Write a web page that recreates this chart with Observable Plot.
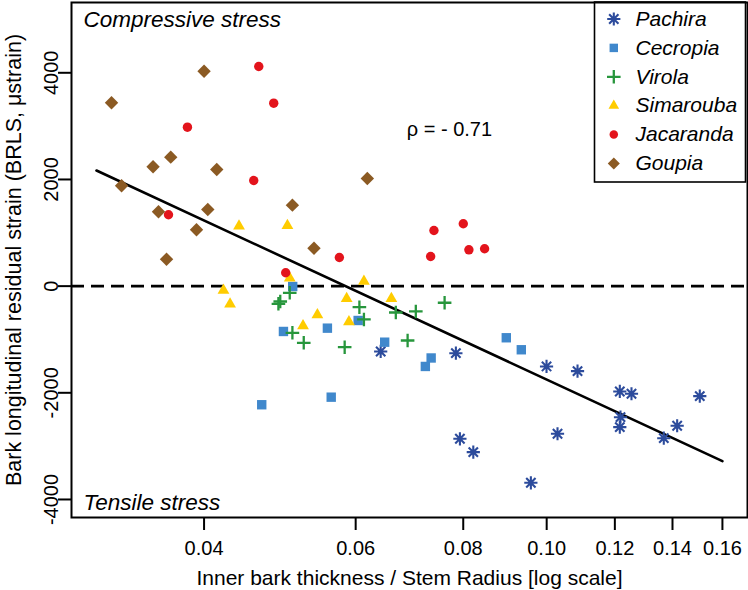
<!DOCTYPE html>
<html>
<head>
<meta charset="utf-8">
<script src="https://cdn.jsdelivr.net/npm/d3@7"></script>
<script src="https://cdn.jsdelivr.net/npm/@observablehq/plot@0.6"></script>
<style>
  html, body { margin: 0; padding: 0; background: #fff; }
  #chart svg { display: block; }
</style>
</head>
<body>
<div id="chart"></div>
<script>
// ---- Data ----
const species = ["Pachira", "Cecropia", "Virola", "Simarouba", "Jacaranda", "Goupia"];
const colors  = ["#2c4b9c", "#4088cc", "#27963c", "#ffcc00", "#e3141c", "#8b5a23"];

const pachiraX = [0.06415, 0.07844, 0.09996, 0.1086, 0.1216, 0.12546, 0.1506, 0.12182, 0.1216, 0.13678, 0.14176, 0.07929, 0.08218, 0.10294, 0.09586];
const pachiraY = [-1225, -1257, -1506, -1594, -1975, -2018, -2063, -2457, -2644, -2851, -2618, -2862, -3113, -2768, -3687];

const cecropiaX = [0.0507, 0.04946, 0.05563, 0.0604, 0.06484, 0.07342, 0.07229, 0.04667, 0.0562, 0.08976, 0.09344];
const cecropiaY = [-7, -850, -788, -644, -1051, -1347, -1506, -2224, -2082, -968, -1193];

const virolaX = [0.0488, 0.04904, 0.0503, 0.05066, 0.05222, 0.05826, 0.0606, 0.06134, 0.0668, 0.07047, 0.07611, 0.06894];
const virolaY = [-331, -288, -125, -875, -1062, -1145, -395, -625, -494, -475, -312, -1019];

const simaroubaX = [0.04392, 0.04999, 0.04213, 0.04288, 0.0503, 0.06134, 0.05857, 0.06601, 0.05416, 0.05212, 0.05893];
const simaroubaY = [1124, 1137, -80, -335, 150, 90, -235, -235, -540, -745, -670];

const jacarandaX = [0.0463, 0.04819, 0.03826, 0.04568, 0.03637, 0.05744, 0.04976, 0.07397, 0.08001, 0.07332, 0.08122, 0.0847];
const jacarandaY = [4118, 3430, 2980, 1981, 1338, 537, 250, 1043, 1169, 556, 681, 700];

const goupiaX = [0.03123, 0.0400, 0.0349, 0.03659, 0.04138, 0.03208, 0.03541, 0.0404, 0.0392, 0.03618, 0.05066, 0.05367, 0.0619];
const goupiaY = [3437, 4030, 2238, 2418, 2187, 1881, 1394, 1437, 1056, 505, 1518, 711, 2018];

// regression line endpoints
const fitX = [0.03, 0.16];
const fitY = [2168, -3282];

const xTicks = [0.04, 0.06, 0.08, 0.10, 0.12, 0.14, 0.16];
const yTicks = [-4000, -2000, 0, 2000, 4000];

const rhoLabel = [{x: 0.0771, y: 2926, text: "ρ = - 0.71"}];
const xTitle = "Inner bark thickness / Stem Radius [log scale]";
const yTitle = "Bark longitudinal residual strain (BRLS, μstrain)";

// ---- Symbols (R-like pch) ----
const sym = (fn) => ({draw(ctx, size) { fn(ctx, Math.sqrt(size / Math.PI)); }});
const asterisk8 = sym((c, r) => {
  for (let k = 0; k < 4; k++) {
    const a = k * Math.PI / 4, x = r * Math.cos(a), y = r * Math.sin(a);
    c.moveTo(x, y); c.lineTo(-x, -y);
  }
});
const plusSym = sym((c, r) => { c.moveTo(-r, 0); c.lineTo(r, 0); c.moveTo(0, -r); c.lineTo(0, r); });
const squareSym = sym((c, r) => { c.rect(-r, -r, 2 * r, 2 * r); });
const triSym = sym((c, r) => {
  const h = r * Math.sqrt(3);
  c.moveTo(0, -2 * h / 3); c.lineTo(r, h / 3); c.lineTo(-r, h / 3); c.closePath();
});
const circleSym = sym((c, r) => { c.moveTo(r, 0); c.arc(0, 0, r, 0, 2 * Math.PI); });
const diamondSym = sym((c, r) => { c.moveTo(0, -r); c.lineTo(r, 0); c.lineTo(0, r); c.lineTo(-r, 0); c.closePath(); });

const styles = [
  {symbol: asterisk8, r: 6.6, fill: "none", strokeWidth: 2.1, stroked: true},
  {symbol: squareSym, r: 4.7, strokeWidth: 0},
  {symbol: plusSym, r: 6.8, fill: "none", strokeWidth: 2.3, stroked: true},
  {symbol: triSym, r: 5.9, strokeWidth: 0},
  {symbol: circleSym, r: 4.7, strokeWidth: 0},
  {symbol: diamondSym, r: 6.7, strokeWidth: 0}
];
const seriesX = [pachiraX, cecropiaX, virolaX, simaroubaX, jacarandaX, goupiaX];
const seriesY = [pachiraY, cecropiaY, virolaY, simaroubaY, jacarandaY, goupiaY];

function dotOpts(i, extra) {
  const s = styles[i];
  return Object.assign({
    symbol: s.symbol, r: s.r,
    fill: s.stroked ? "none" : colors[i],
    stroke: s.stroked ? colors[i] : "none",
    strokeWidth: s.strokeWidth
  }, extra);
}

const marks = [];
marks.push(Plot.ruleY([0], {stroke: "black", strokeWidth: 2.6, strokeDasharray: "13,7"}));
marks.push(Plot.line(fitX.map((x, i) => ({x, y: fitY[i]})), {x: "x", y: "y", stroke: "black", strokeWidth: 2.6}));
species.forEach((sp, i) => {
  const data = seriesX[i].map((x, j) => ({x, y: seriesY[i][j]}));
  marks.push(Plot.dot(data, dotOpts(i, {x: "x", y: "y"})));
});

// axes
marks.push(Plot.axisX(xTicks, {tickSize: 13, tickPadding: 10, tickFormat: d3.format(".2f"), fontSize: 20, strokeWidth: 2, label: null}));
marks.push(Plot.axisY(yTicks, {tickSize: 13, tickFormat: () => "", strokeWidth: 2, label: null}));
marks.push(Plot.text(yTicks, {y: d => d, text: d => String(d), frameAnchor: "left", dx: -28, rotate: -90, textAnchor: "middle", lineAnchor: "top", fontSize: 20}));
marks.push(Plot.text([xTitle], {frameAnchor: "bottom", dy: 53, lineAnchor: "top", fontSize: 21, textAnchor: "middle"}));
marks.push(Plot.text([yTitle], {frameAnchor: "left", dx: -66, rotate: -90, lineAnchor: "top", textAnchor: "middle", fontSize: 21.5}));

// annotations
marks.push(Plot.text(rhoLabel, {x: "x", y: "y", text: "text", fontSize: 20, textAnchor: "middle", lineAnchor: "middle"}));
marks.push(Plot.text(["Compressive stress"], {frameAnchor: "top-left", dx: 12, dy: 9, lineAnchor: "top", textAnchor: "start", fontSize: 22.5, fontStyle: "italic"}));
marks.push(Plot.text(["Tensile stress"], {frameAnchor: "bottom-left", dx: 12, dy: -23.5, lineAnchor: "top", textAnchor: "start", fontSize: 22.5, fontStyle: "italic"}));

// legend (inside plot, top-right)
species.forEach((sp, i) => {
  const rowY = 18.5 + 28.9 * i - 2;
  const s = styles[i];
  marks.push(Plot.dot([sp], Object.assign(dotOpts(i, {frameAnchor: "top-left", dx: 613.3 - 71, dy: rowY}), {r: s.stroked ? s.r : s.r * 0.9})));
  marks.push(Plot.text([sp], {frameAnchor: "top-left", dx: 635 - 71, dy: rowY, lineAnchor: "middle", textAnchor: "start", fontSize: 21, fontStyle: "italic"}));
});

marks.push(Plot.frame({stroke: "black", strokeWidth: 2}));

const plot = Plot.plot({
  width: 748,
  height: 590,
  marginLeft: 71,
  marginRight: 1,
  marginTop: 2,
  marginBottom: 73,
  x: {type: "log", domain: [0.02806, 0.1711], label: null},
  y: {domain: [-4338, 5318], label: null},
  style: {fontFamily: "'Liberation Sans', Arial, sans-serif", fontSize: "20px", background: "white", color: "black", overflow: "visible"},
  marks
});

// legend box
d3.select(plot).append("rect")
  .attr("x", 594.5).attr("y", 2).attr("width", 151).attr("height", 180)
  .attr("fill", "none").attr("stroke", "black").attr("stroke-width", 1.6);

document.getElementById("chart").appendChild(plot);
</script>
</body>
</html>
